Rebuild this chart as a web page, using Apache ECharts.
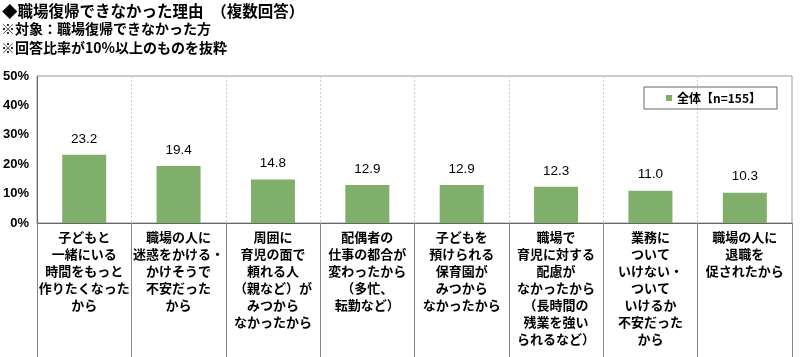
<!DOCTYPE html>
<html><head><meta charset="utf-8">
<script src="https://cdn.jsdelivr.net/npm/echarts@6/dist/echarts.min.js"></script>
<style>html,body{margin:0;padding:0;background:#fff;}#c{width:800px;height:357px;}</style>
</head><body><div id="c"></div>
<script>
const categories = [
  "子どもと\n一緒にいる\n時間をもっと\n作りたくなった\nから",
  "職場の人に\n迷惑をかける・\nかけそうで\n不安だった\nから",
  "周囲に\n育児の面で\n頼れる人\n（親など）が\nみつから\nなかったから",
  "配偶者の\n仕事の都合が\n変わったから\n（多忙、\n転勤など）",
  "子どもを\n預けられる\n保育園が\nみつから\nなかったから",
  "職場で\n育児に対する\n配慮が\nなかったから\n（長時間の\n残業を強い\nられるなど）",
  "業務に\nついて\nいけない・\nついて\nいけるか\n不安だった\nから",
  "職場の人に\n退職を\n促されたから"
];
const values = [23.2, 19.4, 14.8, 12.9, 12.9, 12.3, 11.0, 10.3];
const seriesName = "全体【n=155】";
const titleLines = ["◆職場復帰できなかった理由　（複数回答）", "※対象：職場復帰できなかった方", "※回答比率が10%以上のものを抜粋"];

const FONT = '"Noto Sans CJK JP", "Noto Sans", sans-serif';
const chart = echarts.init(document.getElementById('c'), null, {renderer: 'canvas'});
chart.setOption({
  animation: false,
  backgroundColor: '#fff',
  textStyle: {fontFamily: FONT},
  graphic: [
    {type: 'text', left: 2, top: 3, style: {text: titleLines[0], font: 'bold 15.5px ' + FONT, fill: '#000'}},
    {type: 'text', left: 1, top: 22, style: {text: titleLines[1], font: 'bold 14px ' + FONT, fill: '#000'}},
    {type: 'text', left: 1, top: 41, style: {text: titleLines[2], font: 'bold 14px ' + FONT, fill: '#000'}}
  ],
  legend: {
    right: 23, top: 87, itemWidth: 6, itemHeight: 6, itemGap: 3,
    padding: [5, 16, 5, 22],
    borderColor: '#666', borderWidth: 1,
    textStyle: {fontFamily: FONT, fontSize: 12, fontWeight: 'bold', color: '#000'},
    icon: 'rect',
    data: [seriesName]
  },
  grid: {left: 37, right: 8, top: 76, bottom: 134, show: true, borderColor: '#999', borderWidth: 1},
  xAxis: {
    type: 'category', data: categories,
    axisLine: {show: true, lineStyle: {color: '#666'}},
    axisTick: {show: true, length: 134, lineStyle: {color: '#888'}},
    splitLine: {show: true, lineStyle: {color: '#ccc', type: [2, 2]}},
    axisLabel: {interval: 0, margin: 6, fontSize: 13, fontWeight: 'bold', lineHeight: 17, color: '#000', fontFamily: FONT, verticalAlign: 'top'}
  },
  yAxis: {
    type: 'value', min: 0, max: 50, interval: 10,
    axisLine: {show: true, lineStyle: {color: '#666'}},
    axisTick: {show: false},
    splitLine: {show: false},
    axisLabel: {formatter: '{value}%', fontSize: 13, fontWeight: 'bold', color: '#000', margin: 8, fontFamily: 'Arial, "Liberation Sans", sans-serif'}
  },
  series: [{
    name: seriesName, type: 'bar', data: values, barWidth: 44,
    itemStyle: {color: '#80ae6b'},
    label: {show: true, position: 'top', distance: 9, fontSize: 13.5, color: '#000', fontFamily: 'Arial, "Liberation Sans", sans-serif', formatter: p => p.value.toFixed(1)}
  }]
});
</script></body></html>
